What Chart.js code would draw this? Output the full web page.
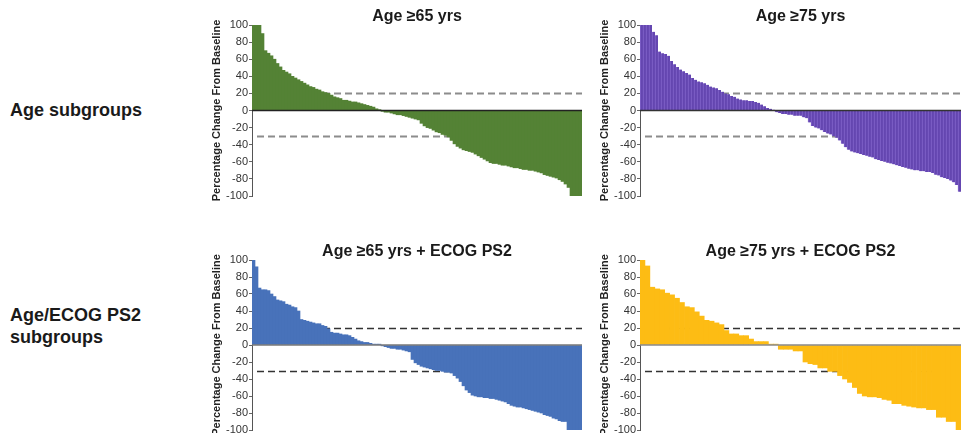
<!DOCTYPE html>
<html>
<head>
<meta charset="utf-8">
<title>Waterfall plots by age subgroup</title>
<script src="https://cdn.jsdelivr.net/npm/chart.js@4.4.0/dist/chart.umd.min.js"></script>
<style>
  html, body { margin: 0; padding: 0; background: #fff; overflow: hidden; }
  body { width: 961px; height: 433px; position: relative; font-family: "Liberation Sans", Arial, sans-serif; }
  .panel { position: absolute; }
  .group { position: absolute; left: 10px; font-size: 18px; font-weight: bold; line-height: 22px; color: #1a1a1a; }
</style>
</head>
<body>
<div class="group" style="top:99px">Age subgroups</div>
<div class="group" style="top:304px">Age/ECOG PS2<br>subgroups</div>

<canvas id="age65" class="panel" width="390" height="206" style="left:200px;top:0"></canvas>
<canvas id="age75" class="panel" width="373" height="206" style="left:588px;top:0"></canvas>
<canvas id="age65ps2" class="panel" width="390" height="206" style="left:200px;top:234px"></canvas>
<canvas id="age75ps2" class="panel" width="373" height="206" style="left:588px;top:234px"></canvas>

<script>
// Percentage change from baseline, one bar per patient, sorted
var age65 = [
  100, 100, 100, 90, 70, 67, 64, 60, 55, 51,
  47, 45, 43, 40, 38, 36, 34, 32, 30, 28,
  27, 25, 24, 22, 21, 20, 18, 16, 15, 14,
  12, 12, 11, 10, 10, 9, 8, 7, 6, 5,
  4, 2, 1, -1, -2, -2, -3, -4, -5, -5,
  -6, -7, -8, -9, -10, -11, -15, -18, -20, -21,
  -23, -25, -26, -28, -29, -31, -35, -39, -42, -44,
  -46, -47, -48, -49, -51, -53, -55, -57, -59, -61,
  -62, -62, -63, -64, -64, -65, -66, -67, -67, -68,
  -69, -69, -70, -70, -71, -72, -73, -75, -76, -77,
  -78, -79, -81, -83, -86, -90, -100, -100, -100, -100
];
var age75 = [
  100, 100, 100, 100, 92, 88, 69, 67, 66, 64,
  58, 54, 51, 48, 46, 44, 42, 38, 36, 34,
  33, 32, 30, 28, 27, 26, 24, 22, 20, 19,
  17, 16, 14, 13, 12, 12, 11, 11, 10, 9,
  7, 5, 3, 2, 1, -2, -3, -4, -4, -5,
  -5, -6, -6, -6, -8, -9, -14, -18, -20, -21,
  -23, -25, -27, -28, -30, -32, -35, -39, -43, -46,
  -48, -49, -50, -51, -52, -53, -54, -55, -57, -58,
  -59, -60, -61, -62, -63, -64, -65, -66, -67, -68,
  -69, -70, -70, -71, -71, -72, -72, -73, -75, -76,
  -78, -79, -80, -82, -84, -87, -95
];
var age65ps2 = [
  100, 92, 67, 65, 65, 64, 60, 57, 53, 52,
  51, 48, 47, 45, 44, 40, 30, 29, 28, 27,
  26, 25, 25, 23, 22, 19, 15, 14, 14, 13,
  12, 12, 11, 9, 7, 5, 4, 3, 3, 2,
  1, 1, 1, -1, -2, -3, -4, -4, -5, -5,
  -6, -7, -8, -17, -21, -23, -25, -26, -27, -28,
  -29, -30, -30, -31, -32, -32, -33, -36, -39, -43,
  -48, -53, -56, -59, -60, -61, -61, -62, -62, -63,
  -63, -64, -65, -66, -67, -69, -71, -72, -73, -73,
  -74, -75, -76, -77, -78, -79, -80, -82, -83, -84,
  -86, -87, -89, -90, -90, -100, -100, -100, -100, -100
];
var age75ps2 = [
  100, 93, 68, 66, 65, 61, 59, 55, 50, 45,
  44, 39, 34, 29, 28, 26, 24, 17, 13, 13,
  11, 11, 7, 4, 4, 4, 1, 1, -5, -5,
  -5, -7, -7, -20, -22, -23, -27, -27, -31, -31,
  -36, -40, -44, -50, -57, -60, -61, -61, -62, -64,
  -65, -69, -69, -71, -72, -73, -74, -74, -76, -76,
  -85, -85, -90, -90, -100
];

// Response thresholds (dashed lines) and axis range
var thresholds = [20, -30];
var yMin = -100;
var yMax = 100;
var yStep = 20;

(function () {
  "use strict";

  Chart.defaults.font.family = "'Liberation Sans', Arial, Helvetica, sans-serif";
  Chart.defaults.color = "#333333";

  // Dashed threshold lines behind the bars, solid zero line on top
  var refLines = {
    id: "refLines",
    beforeDatasetsDraw: function (chart, args, opts) {
      var ctx = chart.ctx;
      var area = chart.chartArea;
      var y = chart.scales.y;
      ctx.save();
      ctx.strokeStyle = opts.dashColor;
      ctx.lineWidth = opts.dashWidth;
      ctx.setLineDash([7, 4]);
      thresholds.forEach(function (v) {
        var py = Math.round(y.getPixelForValue(v)) + 0.5;
        ctx.beginPath();
        ctx.moveTo(area.left + 5, py);
        ctx.lineTo(area.right, py);
        ctx.stroke();
      });
      ctx.restore();
    },
    afterDatasetsDraw: function (chart, args, opts) {
      var ctx = chart.ctx;
      var area = chart.chartArea;
      var py = chart.scales.y.getPixelForValue(0);
      ctx.save();
      ctx.strokeStyle = opts.zeroColor;
      ctx.lineWidth = 1.5;
      ctx.beginPath();
      ctx.moveTo(area.left, py);
      ctx.lineTo(area.right, py);
      ctx.stroke();
      ctx.restore();
    },
  };

  function waterfall(id, title, values, style) {
    var ctx = document.getElementById(id).getContext("2d");
    return new Chart(ctx, {
      type: "bar",
      data: {
        labels: values.map(function (v, i) {
          return "Patient " + (i + 1);
        }),
        datasets: [
          {
            label: title,
            data: values,
            backgroundColor: style.color,
            borderColor: style.stripe || style.color,
            borderWidth: style.stripe ? { left: 1, right: 0, top: 0, bottom: 0 } : 0,
            borderSkipped: false,
            barPercentage: 1,
            categoryPercentage: 1,
          },
        ],
      },
      options: {
        responsive: false,
        animation: false,
        layout: { padding: { top: 0, right: style.padRight, bottom: 10, left: 0 } },
        plugins: {
          legend: { display: false },
          tooltip: { enabled: false },
          title: {
            display: true,
            text: title,
            fullSize: false,
            color: "#1a1a1a",
            font: { size: 16, weight: "bold", lineHeight: 1 },
            padding: { top: style.titleTop, bottom: 0 },
          },
          refLines: {
            dashColor: style.dashColor,
            dashWidth: style.dashWidth,
            zeroColor: style.zeroColor,
          },
        },
        scales: {
          x: { display: false },
          y: {
            min: yMin,
            max: yMax,
            afterFit: function (scale) {
              scale.width = 52;
            },
            ticks: { stepSize: yStep, padding: 1, color: "#333333", font: { size: 11 } },
            grid: { drawOnChartArea: false, drawTicks: true, tickLength: 3, color: "#666666" },
            border: { display: true, color: "#555555", width: 1 },
            title: {
              display: true,
              text: "Percentage Change From Baseline",
              color: "#222222",
              font: { size: 11, weight: "bold" },
              padding: { top: 10, bottom: 0 },
            },
          },
        },
      },
      plugins: [refLines],
    });
  }

  // Age subgroups
  waterfall("age65", "Age \u226565 yrs", age65, {
    color: "#548235", padRight: 8, titleTop: 9,
    dashColor: "#8c8c8c", dashWidth: 2, zeroColor: "#222222",
  });
  waterfall("age75", "Age \u226575 yrs", age75, {
    color: "#6446b0", stripe: "#8466cc", padRight: 0, titleTop: 9,
    dashColor: "#8c8c8c", dashWidth: 2, zeroColor: "#333333",
  });

  // Age/ECOG PS2 subgroups
  waterfall("age65ps2", "Age \u226565 yrs + ECOG PS2", age65ps2, {
    color: "#4872ba", padRight: 8, titleTop: 10,
    dashColor: "#333333", dashWidth: 1.5, zeroColor: "#777777",
  });
  waterfall("age75ps2", "Age \u226575 yrs + ECOG PS2", age75ps2, {
    color: "#fdbc14", padRight: 0, titleTop: 10,
    dashColor: "#333333", dashWidth: 1.5, zeroColor: "#888888",
  });
})();
</script>
</body>
</html>
